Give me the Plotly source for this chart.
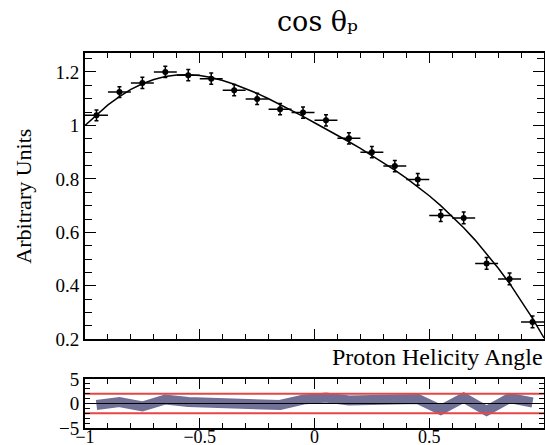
import plotly.graph_objects as go

# ---------------- data ----------------
bin_centers = [-0.95, -0.85, -0.75, -0.65, -0.55, -0.45, -0.35, -0.25, -0.15, -0.05,
               0.05, 0.15, 0.25, 0.35, 0.45, 0.55, 0.65, 0.75, 0.85, 0.95]
bin_half_widths = [0.05] * 20
counts = [1.038, 1.125, 1.159, 1.200, 1.188, 1.175, 1.132, 1.099, 1.061, 1.048,
          1.019, 0.952, 0.900, 0.848, 0.798, 0.663, 0.654, 0.484, 0.426, 0.265]
count_errors = [0.020, 0.020, 0.021, 0.021, 0.021, 0.021, 0.021, 0.021, 0.021, 0.021,
                0.021, 0.021, 0.021, 0.021, 0.022, 0.022, 0.022, 0.022, 0.022, 0.022]

fit_x = [-1.00, -0.95, -0.90, -0.85, -0.80, -0.75, -0.70, -0.65, -0.60, -0.55, -0.50,
         -0.45, -0.40, -0.35, -0.30, -0.25, -0.20, -0.15, -0.10, -0.05, 0.00,
         0.05, 0.10, 0.15, 0.20, 0.25, 0.30, 0.35, 0.40, 0.45, 0.50,
         0.55, 0.60, 0.65, 0.70, 0.75, 0.80, 0.85, 0.90, 0.95, 1.00]
fit_y = [1.000, 1.040, 1.077, 1.108, 1.135, 1.156, 1.172, 1.183, 1.189, 1.190, 1.187,
         1.179, 1.168, 1.154, 1.138, 1.120, 1.100, 1.079, 1.057, 1.034, 1.010,
         0.987, 0.963, 0.939, 0.914, 0.888, 0.861, 0.833, 0.803, 0.771, 0.737,
         0.700, 0.660, 0.617, 0.571, 0.521, 0.467, 0.409, 0.346, 0.278, 0.205]

pulls = [-0.3, 0.3, -0.6, 0.8, 0.3, 0.2, -0.4, -0.4, -0.3, 0.8,
         1.2, 0.6, 0.7, 0.7, 0.9, -1.3, 1.2, -1.5, 1.1, 0.2]
pull_limits = [-2, 2]
x_span = [-1, 1]

title_text = "cos θₚ"
ytitle_text = "Arbitrary Units"
xtitle_text = "Proton Helicity Angle"

# ---------------- layout geometry (pixels) ----------------
W, H = 545, 445
L, R, T, B = 85, 544, 53, 428
PW, PH = R - L, B - T

def fx(p):
    return (p - L) / PW
def fy(p):
    return (B - p) / PH

FONT = "Liberation Serif"
CLEAR = "rgba(0,0,0,0)"

fig = go.Figure()

fig.add_trace(go.Scatter(
    x=fit_x, y=fit_y, mode="lines", line=dict(color="black", width=1.5),
    xaxis="x", yaxis="y"))
fig.add_trace(go.Scatter(
    x=bin_centers, y=counts, mode="markers",
    marker=dict(color="black", size=6),
    error_x=dict(type="data", array=bin_half_widths, color="black", thickness=1.5, width=0),
    error_y=dict(type="data", array=count_errors, color="black", thickness=1.5, width=2),
    xaxis="x", yaxis="y"))

fig.add_trace(go.Scatter(
    x=bin_centers, y=pulls, mode="lines",
    line=dict(color="rgb(112,112,150)", width=10),
    xaxis="x2", yaxis="y2"))
fig.add_trace(go.Scatter(
    x=x_span, y=[0, 0], mode="lines", line=dict(color="black", width=1.2),
    xaxis="x2", yaxis="y2"))
for lim in pull_limits:
    fig.add_trace(go.Scatter(
        x=x_span, y=[lim, lim], mode="lines", line=dict(color="rgb(232,70,70)", width=2),
        xaxis="x2", yaxis="y2"))

def axis(**kw):
    base = dict(gridcolor=CLEAR, zerolinecolor=CLEAR, showline=True, linecolor="black",
                linewidth=2, mirror="ticks", ticks="inside", tickcolor="black", tickwidth=1,
                tickfont=dict(family=FONT, size=19, color="black"))
    base.update(kw)
    return base

fig.update_layout(
    template="none",
    width=W, height=H, autosize=False,
    margin=dict(l=L, r=W - R, t=T, b=H - B),
    paper_bgcolor="white", plot_bgcolor="white",
    showlegend=False,
    xaxis=axis(domain=[0, 1], range=[-1, 1], anchor="y", dtick=0.5, ticklen=10,
               showticklabels=False, minor=dict(dtick=0.1, ticklen=5, ticks="inside")),
    yaxis=axis(domain=[fy(339.3), 1], range=[0.2, 1.271], anchor="x", dtick=0.2, ticklen=11,
               minor=dict(dtick=0.05, ticklen=7, ticks="inside"),
               title=dict(text=ytitle_text, font=dict(family=FONT, size=22, color="black"),
                          standoff=18)),
    xaxis2=axis(domain=[0, 1], range=[-1, 1], anchor="y2", dtick=0.5, ticklen=10,
                ticklabelstandoff=-9, tickfont=dict(family=FONT, size=18, color="black"),
                minor=dict(dtick=0.1, ticklen=5, ticks="inside")),
    yaxis2=axis(domain=[0, fy(379)], range=[-5, 5], anchor="x2", dtick=5, ticklen=10,
                minor=dict(dtick=1, ticklen=5, ticks="inside")),
)

fig.add_annotation(text=title_text, x=fx(317), y=fy(21), xref="paper", yref="paper",
                   xanchor="center", yanchor="middle", showarrow=False,
                   font=dict(family="DejaVu Serif", size=27, color="black"))
fig.add_annotation(text=xtitle_text, x=fx(545), y=fy(357), xref="paper", yref="paper",
                   xanchor="right", yanchor="middle", showarrow=False,
                   font=dict(family=FONT, size=24, color="black"))

fig.write_html("out.html")
